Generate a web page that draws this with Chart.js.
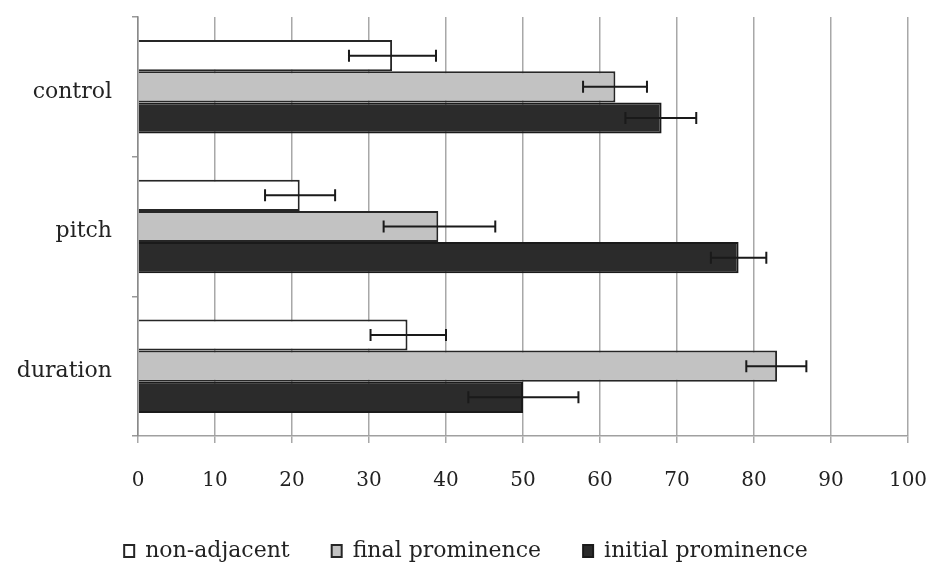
<!DOCTYPE html>
<html>
<head>
<meta charset="utf-8">
<script src="https://cdn.jsdelivr.net/npm/chart.js@4/dist/chart.umd.min.js"></script>
<style>
html,body{margin:0;padding:0;background:#fff;}
#c{display:block;}
</style>
</head>
<body>
<canvas id="c" width="932" height="563"></canvas>
<script>
const categories = ['control', 'pitch', 'duration'];
const seriesNames = ['non-adjacent', 'final prominence', 'initial prominence'];
const nonAdjacent = [33, 21, 35];
const finalProminence = [62, 39, 83];
const initialProminence = [68, 78, 50];
const nonAdjacentErrLow = [27.4, 16.5, 30.2];
const nonAdjacentErrHigh = [38.7, 25.6, 40.0];
const finalErrLow = [57.8, 31.9, 79.0];
const finalErrHigh = [66.1, 46.4, 86.8];
const initialErrLow = [63.3, 74.4, 42.9];
const initialErrHigh = [72.5, 81.6, 57.2];
const xTicks = [0, 10, 20, 30, 40, 50, 60, 70, 80, 90, 100];

const FONT = 'DejaVu Serif';

const errorBars = {
  id: 'errorBars',
  afterDatasetsDraw(chart) {
    const ctx = chart.ctx;
    const xs = chart.scales.x;
    ctx.save();
    ctx.strokeStyle = '#1a1a1a';
    ctx.lineWidth = 2;
    chart.data.datasets.forEach((ds, di) => {
      const meta = chart.getDatasetMeta(di);
      meta.data.forEach((el, i) => {
        const y = el.y;
        const x1 = xs.getPixelForValue(ds.errLow[i]);
        const x2 = xs.getPixelForValue(ds.errHigh[i]);
        const cap = 6;
        ctx.beginPath();
        ctx.moveTo(x1, y); ctx.lineTo(x2, y);
        ctx.moveTo(x1, y - cap); ctx.lineTo(x1, y + cap);
        ctx.moveTo(x2, y - cap); ctx.lineTo(x2, y + cap);
        ctx.stroke();
      });
    });
    ctx.restore();
  }
};

new Chart(document.getElementById('c'), {
  type: 'bar',
  data: {
    labels: categories,
    datasets: [
      { label: seriesNames[0], data: nonAdjacent, errLow: nonAdjacentErrLow, errHigh: nonAdjacentErrHigh,
        backgroundColor: '#ffffff', borderColor: '#262626', borderWidth: 2 },
      { label: seriesNames[1], data: finalProminence, errLow: finalErrLow, errHigh: finalErrHigh,
        backgroundColor: '#c2c2c2', borderColor: '#262626', borderWidth: 2 },
      { label: seriesNames[2], data: initialProminence, errLow: initialErrLow, errHigh: initialErrHigh,
        backgroundColor: '#2b2b2b', borderColor: '#1a1a1a', borderWidth: 2 }
    ]
  },
  options: {
    indexAxis: 'y',
    responsive: false,
    animation: false,
    datasets: { bar: { categoryPercentage: 0.67, barPercentage: 1.0, borderSkipped: 'start' } },
    layout: { padding: { left: 0, top: 17, right: 0, bottom: -9 } },
    plugins: {
      tooltip: { enabled: false },
      legend: {
        position: 'bottom',
        labels: {
          boxWidth: 10, boxHeight: 12, padding: 42,
          color: '#222',
          font: { family: FONT, size: 22 }
        }
      }
    },
    scales: {
      x: {
        min: 0, max: 100,
        afterBuildTicks(scale) { scale.ticks = xTicks.map(v => ({ value: v })); },
        afterFit(scale) { scale.height = 62; scale.paddingLeft = 0; scale.paddingRight = 24; },
        grid: { color: '#a8a8a8', lineWidth: 1.5, tickLength: 7, drawTicks: true },
        border: { display: true, color: '#a0a0a0', width: 1.5 },
        ticks: { color: '#222', padding: 26, font: { family: FONT, size: 20 } }
      },
      y: {
        afterFit(scale) { scale.width = 138; scale.paddingTop = 0; scale.paddingBottom = 0; },
        grid: { drawOnChartArea: false, drawTicks: true, tickLength: 6, color: '#999', lineWidth: 1.5 },
        border: { display: true, color: '#8a8a8a', width: 1.5 },
        ticks: { color: '#222', padding: 20, labelOffset: 5, font: { family: FONT, size: 22 } }
      }
    }
  },
  plugins: [errorBars]
});
</script>
</body>
</html>
